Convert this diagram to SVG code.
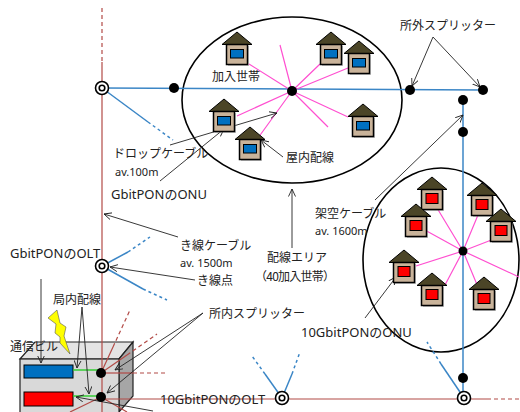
<svg xmlns="http://www.w3.org/2000/svg" width="520" height="412" viewBox="0 0 520 412">
  <defs>
    <style>
      .t { font-family: "Noto Sans CJK JP", "Noto Sans", sans-serif; font-size: 12px; fill: #222; }
      .l { font-family: "Noto Sans", "Noto Sans CJK JP", sans-serif; font-size: 13px; fill: #222; }
      .s { font-size: 11px; }
      .blue { stroke: #3b86c6; stroke-width: 1.5; fill: none; }
      .bdash { stroke: #3b86c6; stroke-width: 1.5; fill: none; stroke-dasharray: 3 3; }
      .red { stroke: #b24a46; stroke-width: 1.2; fill: none; }
      .rdash { stroke: #b24a46; stroke-width: 1.2; fill: none; stroke-dasharray: 4 3; }
      .pink { stroke: #ff4fd0; stroke-width: 1.2; fill: none; }
      .lead { stroke: #222; stroke-width: 0.9; fill: none; marker-end: url(#arr); }
      .area { stroke: #000; stroke-width: 1.6; fill: none; }
      .dot { fill: #000; }
    </style>
    <marker id="arr" viewBox="0 0 8 8" refX="7.5" refY="4" markerWidth="8" markerHeight="8" markerUnits="userSpaceOnUse" orient="auto">
      <path d="M0,0.5 L7.5,4 L0,7.5" fill="none" stroke="#222" stroke-width="0.9"/>
    </marker>
    <g id="house">
      <rect x="-9" y="14" width="21" height="20" fill="#8a8a8a" opacity="0.5"/>
      <polygon points="0,0 15,12.5 -15,12.5" fill="#4b4527" stroke="#000" stroke-width="1"/>
      <rect x="-10.5" y="12.5" width="21" height="20" fill="#c9b39a" stroke="#000" stroke-width="1.5"/>
    </g>
    <g id="hb">
      <use href="#house"/>
      <rect x="-6.5" y="17.5" width="13" height="8.5" fill="#0070c0" stroke="#000" stroke-width="1"/>
    </g>
    <g id="hr">
      <use href="#house"/>
      <rect x="-6" y="16.5" width="12" height="10" fill="#ff0000" stroke="#000" stroke-width="1"/>
    </g>
    <g id="tap" fill="#fff" stroke="#000" stroke-width="1.6">
      <circle r="6.5"/>
      <circle r="2.8"/>
    </g>
  </defs>

  <rect width="520" height="412" fill="#fff"/>

  <!-- central office building -->
  <g id="building">
    <polygon points="20,359 35,342 133,342 119,359" fill="#e4e4e4" stroke="#222" stroke-width="1.2"/>
    <polygon points="119,359 133,342 133,396 119,412" fill="#a6a6a6" stroke="#222" stroke-width="1.2"/>
    <rect x="20" y="359" width="99" height="55" fill="#d9d9d9" stroke="#222" stroke-width="1.2"/>
    <rect x="24" y="365" width="49" height="13" fill="#0070c0" stroke="#000" stroke-width="1"/>
    <rect x="24" y="392" width="49" height="14" fill="#ff0000" stroke="#000" stroke-width="1"/>
  </g>

  <!-- subscriber areas -->
  <g id="area-gbit">
    <ellipse class="area" cx="292" cy="100" rx="110" ry="83"/>
  </g>
  <g id="area-10g">
    <ellipse class="area" cx="441" cy="260" rx="78" ry="92"/>
  </g>

  <g id="connectors">
    <!-- feeder (red) -->
    <line class="rdash" x1="102" y1="8" x2="102" y2="62"/>
    <line class="red" x1="102" y1="62" x2="102" y2="412"/>
    <line class="red" x1="102" y1="399" x2="487" y2="399"/>
    <line class="rdash" x1="487" y1="399" x2="520" y2="399" stroke-dasharray="5 2 1 2"/>
    <line class="red" x1="101" y1="373" x2="113" y2="347"/>
    <line class="rdash" x1="113" y1="347" x2="130" y2="310"/>
    <line class="red" x1="101" y1="373" x2="127" y2="355"/>
    <line class="rdash" x1="127" y1="355" x2="157" y2="334"/>
    <line class="red" x1="101" y1="373" x2="133" y2="373"/>
    <line class="rdash" x1="133" y1="373" x2="167" y2="373"/>
    <line class="red" x1="101" y1="397" x2="70" y2="412"/>
    <line class="red" x1="101" y1="397" x2="127" y2="412"/>
    <line stroke="#33cc33" stroke-width="1.5" x1="73" y1="370" x2="101" y2="370"/>
    <line stroke="#33cc33" stroke-width="1.5" x1="73" y1="396" x2="101" y2="396"/>

    <!-- distribution (blue) -->
    <line class="blue" x1="102" y1="88" x2="483" y2="90"/>
    <line class="blue" x1="463" y1="100" x2="463" y2="398"/>
    <line class="blue" x1="102" y1="88" x2="148" y2="122"/>
    <line class="bdash" x1="148" y1="122" x2="173" y2="140"/>
    <line class="blue" x1="102" y1="266" x2="128" y2="252"/>
    <line class="bdash" x1="128" y1="252" x2="150" y2="237"/>
    <line class="blue" x1="102" y1="266" x2="143" y2="289"/>
    <line class="bdash" x1="143" y1="289" x2="167" y2="300"/>
    <line class="blue" x1="282" y1="398" x2="265" y2="374"/>
    <line class="bdash" x1="265" y1="374" x2="252" y2="356"/>
    <line class="blue" x1="282" y1="398" x2="292" y2="374"/>
    <line class="bdash" x1="292" y1="374" x2="300" y2="352"/>
    <line class="blue" x1="464" y1="398" x2="441" y2="364"/>
    <line class="bdash" x1="441" y1="364" x2="427" y2="342"/>

    <!-- in-home wiring (pink) -->
    <path class="pink" d="M292,91 L280,45 M292,91 L249,64 M292,91 L320,64 M292,91 L348,68 M292,91 L328,127 M292,91 L348,117 M292,91 L237,116 M292,91 L258,138"/>
    <path class="pink" d="M463,251 L437,208 M463,251 L478,215 M463,251 L423,229 M463,251 L494,239 M463,251 L416,266 M463,251 L445,285 M463,251 L478,287 M463,251 L519,277"/>

    <!-- annotation leaders -->
    <line class="lead" x1="433" y1="37" x2="412" y2="86"/>
    <line class="lead" x1="433" y1="37" x2="480" y2="87"/>
    <line class="lead" x1="170" y1="145" x2="277" y2="113"/>
    <line class="lead" x1="160" y1="181" x2="224" y2="129"/>
    <line class="lead" x1="283" y1="157" x2="261" y2="140"/>
    <line class="lead" x1="375" y1="200" x2="463" y2="115"/>
    <line class="lead" x1="292" y1="248" x2="292" y2="189"/>
    <line class="lead" x1="178" y1="237" x2="104" y2="214"/>
    <line class="lead" x1="195" y1="280" x2="110" y2="267"/>
    <line class="lead" x1="41" y1="279" x2="41" y2="363"/>
    <line class="lead" x1="82" y1="307" x2="77" y2="368"/>
    <line class="lead" x1="82" y1="307" x2="89" y2="394"/>
    <line class="lead" x1="203" y1="313" x2="115" y2="370"/>
    <line class="lead" x1="203" y1="313" x2="107" y2="393"/>
    <line class="lead" x1="153" y1="411" x2="76" y2="397"/>
    <line class="lead" x1="365" y1="318" x2="396" y2="277"/>
  </g>

  <!-- houses, Gbit area -->
  <g id="hb1"><use href="#hb" x="237" y="32"/></g>
  <g id="hb2"><use href="#hb" x="331" y="32"/></g>
  <g id="hb3"><use href="#hb" x="359" y="41"/></g>
  <g id="hb4"><use href="#hb" x="363" y="104"/></g>
  <g id="hb5"><use href="#hb" x="224" y="99"/></g>
  <g id="hb6"><use href="#hb" x="250" y="127"/></g>

  <!-- houses, 10G area -->
  <g id="hr1"><use href="#hr" x="432" y="177"/></g>
  <g id="hr2"><use href="#hr" x="482" y="183"/></g>
  <g id="hr3"><use href="#hr" x="416" y="204"/></g>
  <g id="hr4"><use href="#hr" x="501" y="209"/></g>
  <g id="hr5"><use href="#hr" x="404" y="250"/></g>
  <g id="hr6"><use href="#hr" x="432" y="273"/></g>
  <g id="hr7"><use href="#hr" x="484" y="277"/></g>

  <!-- splitters -->
  <g id="sp-a"><circle class="dot" cx="174" cy="88" r="5"/></g>
  <g id="sp-hub1"><circle class="dot" cx="292" cy="91" r="5"/></g>
  <g id="sp-b"><circle class="dot" cx="410" cy="90" r="5"/></g>
  <g id="sp-c"><circle class="dot" cx="483" cy="90" r="5"/></g>
  <g id="sp-d"><circle class="dot" cx="463" cy="100" r="5"/></g>
  <g id="sp-e"><circle class="dot" cx="463" cy="132" r="5"/></g>
  <g id="sp-hub2"><circle class="dot" cx="463" cy="251" r="4.5"/></g>
  <g id="sp-f"><circle class="dot" cx="463" cy="378" r="5"/></g>
  <g id="sp-in1"><circle class="dot" cx="101" cy="373" r="5"/></g>
  <g id="sp-in2"><circle class="dot" cx="101" cy="397" r="5"/></g>

  <!-- cable junction points -->
  <g id="tap1"><use href="#tap" x="102" y="88"/></g>
  <g id="tap2"><use href="#tap" x="102" y="266"/></g>
  <g id="tap3"><use href="#tap" x="282" y="398"/></g>
  <g id="tap4"><use href="#tap" x="464" y="398"/></g>

  <!-- labels -->
  <g id="labels">
    <text class="t" x="212" y="81" font-size="13">加入世帯</text>
    <text class="t" x="400" y="30" font-size="11.3">所外スプリッター</text>
    <text class="t" x="286" y="162" font-size="12.8">屋内配線</text>
    <text class="t" x="113" y="158" font-size="11.3">ドロップケーブル</text>
    <text class="l s" x="115" y="176">av.100m</text>
    <text class="l" x="111" y="199">GbitPONのONU</text>
    <text class="t" x="315" y="218">架空ケーブル</text>
    <text class="l s" x="315" y="235">av. 1600m</text>
    <text class="t" x="267" y="262" font-size="11.6">配線エリア</text>
    <text class="t" x="255" y="281" textLength="80">（40加入世帯）</text>
    <text class="t" x="180" y="250">き線ケーブル</text>
    <text class="l s" x="180" y="267">av. 1500m</text>
    <text class="t" x="197" y="285">き線点</text>
    <text class="l" x="10" y="258" font-size="13.3">GbitPONのOLT</text>
    <text class="t" x="53" y="304" font-size="13">局内配線</text>
    <text class="t" x="10" y="351" font-size="11.8">通信ビル</text>
    <text class="t" x="209" y="318" font-size="11.1">所内スプリッター</text>
    <text class="l" x="160" y="404" font-size="13.3">10GbitPONのOLT</text>
    <text class="l" x="301" y="337">10GbitPONのONU</text>
  </g>

  <!-- lightning mark over the building -->
  <g id="lightning">
    <polygon points="48,318 57,310 60,323 66,327 64,336 70,354 60,343 60,337 55,333 56,324" fill="#ffff00" stroke="#555" stroke-width="0.6"/>
  </g>
</svg>
